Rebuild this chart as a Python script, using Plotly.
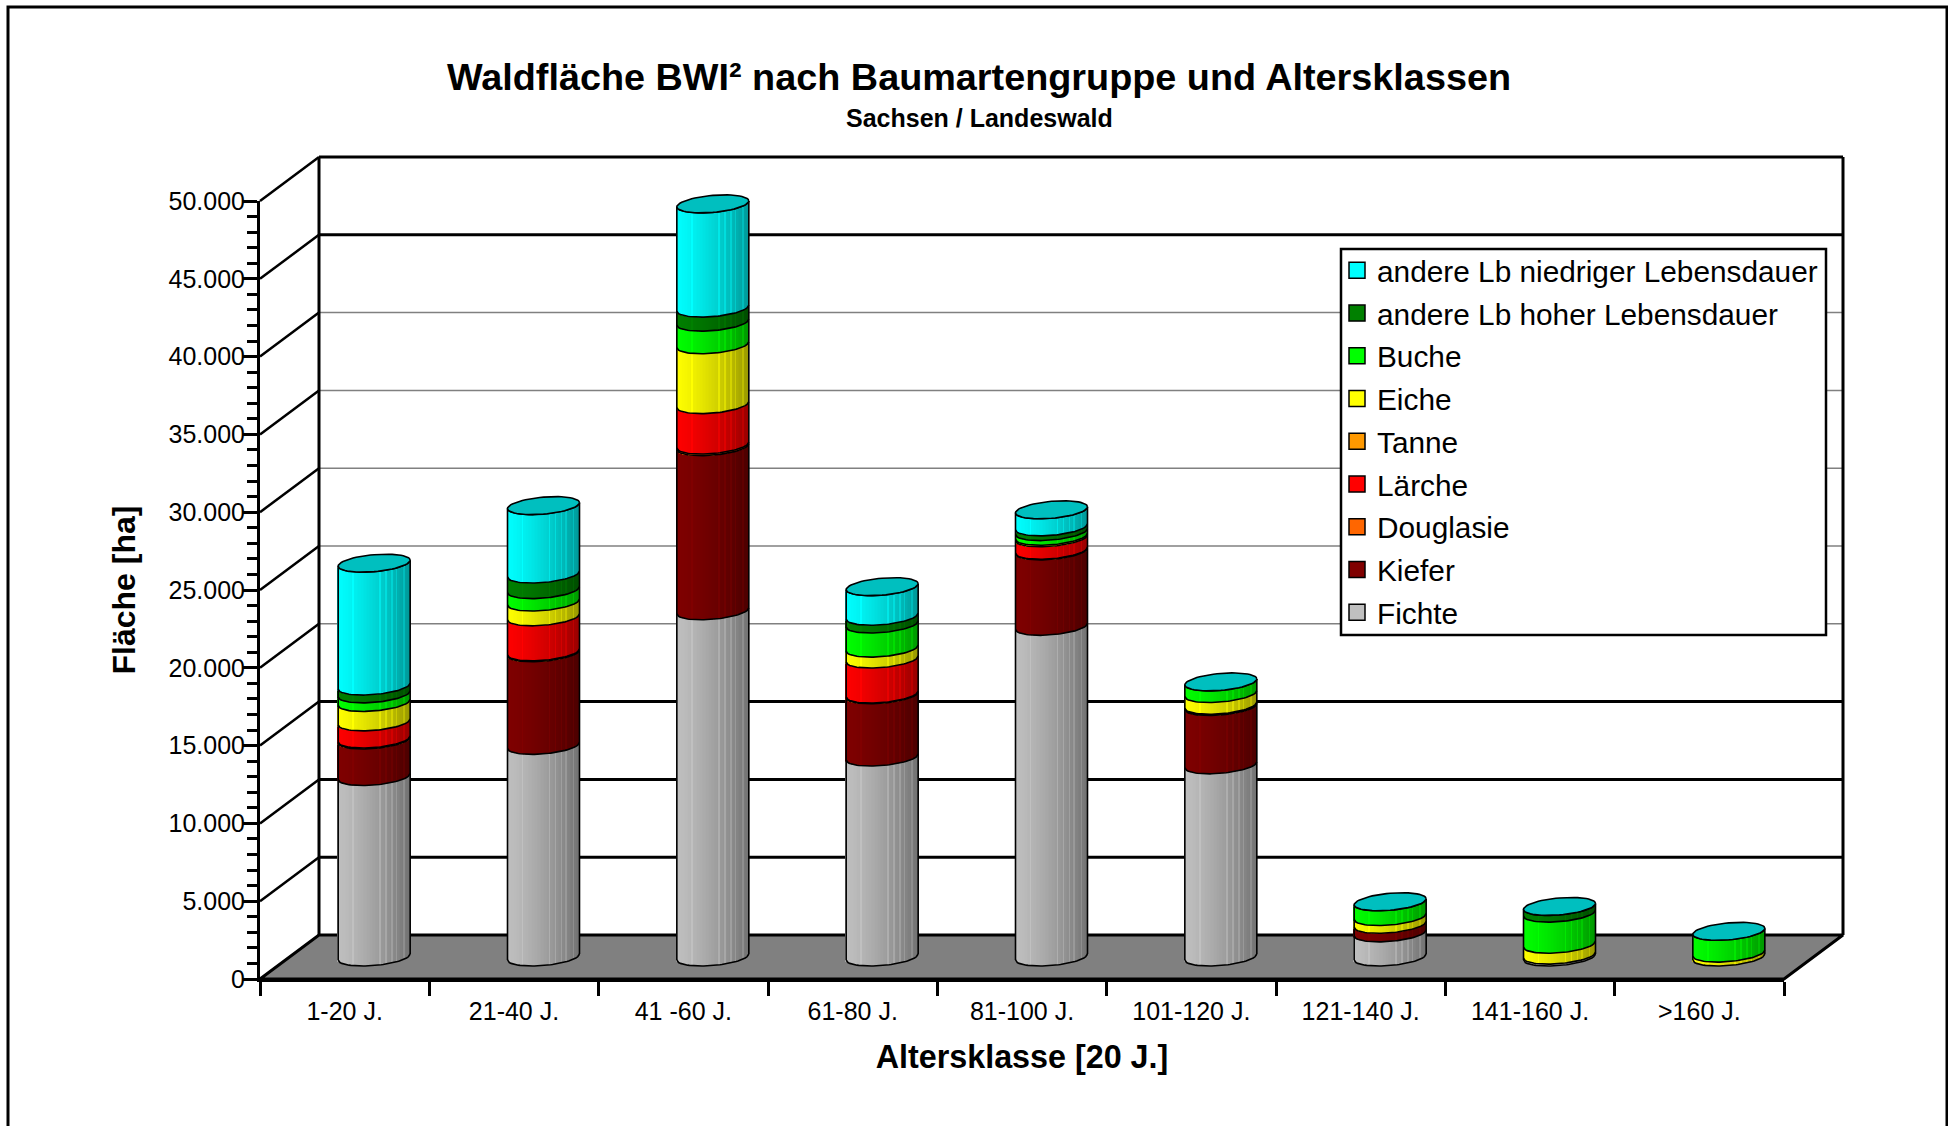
import math
import plotly.graph_objects as go

# ---------- data (ha) ----------
altersklassen = ["1-20 J.", "21-40 J.", "41 -60 J.", "61-80 J.", "81-100 J.", "101-120 J.", "121-140 J.", "141-160 J.", ">160 J."]
fichte    = [11600, 13600, 22250, 12850, 21250, 12350, 1550, 120, 0]
kiefer    = [2350, 5950, 10550, 4000, 4850, 3750, 550, 0, 0]
douglasie = [60, 60, 100, 50, 40, 30, 0, 0, 0]
laerche   = [1100, 2250, 2600, 2250, 800, 50, 0, 0, 0]
tanne     = [0, 0, 0, 0, 0, 0, 0, 0, 0]
eiche     = [1250, 950, 3850, 700, 100, 750, 500, 700, 250]
buche     = [550, 800, 1450, 1550, 300, 750, 950, 2000, 1400]
lb_hoch   = [500, 1000, 900, 500, 300, 0, 0, 430, 0]
lb_nied   = [7900, 4400, 6700, 1900, 1100, 0, 0, 0, 0]

series_names = ["Fichte", "Kiefer", "Douglasie", "Lärche", "Tanne", "Eiche", "Buche",
                "andere Lb hoher Lebensdauer", "andere Lb niedriger Lebensdauer"]
series_vals = [fichte, kiefer, douglasie, laerche, tanne, eiche, buche, lb_hoch, lb_nied]
series_cols = ["#C0C0C0", "#800000", "#FF6600", "#FF0000", "#FF9900", "#FFFF00", "#00FF00", "#008000", "#00FFFF"]
cap_col = "#00BFBF"

y_ticks_major = list(range(0, 50001, 5000))
grid_black = [5000, 10000, 15000, 45000, 50000]

# ---------- geometry (pixels of the picture -> data units) ----------
W, H = 1948, 1126
L, R, T, B = 260, 1784, 201, 979   # front plane of the box
RB, TB = 1843, 157                 # back plane: right edge, top edge
PAD = 4                            # room round the box so its edge lines are not clipped
AL, AR, AT, AB = L - PAD, RB + PAD, TB - PAD, B + PAD
N = len(altersklassen)
PX_X = (R - L) / N
PX_Y = (B - T) / 50000
DX = (RB - R) / PX_X      # depth of the box in axis units
DY = (T - TB) / PX_Y
A = 36.0              # cylinder half width, px
BY = 9.0              # cap half height, px
PHI = math.asin(1 / 3)
N_STRIPS = 48
STEP = 2 * A / N_STRIPS
light = [0.22, 0.60, 0.67, 0.755, 0.83, 0.92]


def front(u):
    return BY * math.sin(PHI - math.acos(max(-1, min(1, u / A))))


def shade(hex_col, f):
    r, g, b = [int(hex_col[i:i + 2], 16) for i in (1, 3, 5)]
    k = 1 - 0.2 * f - 0.2 * f * f
    if any(abs(f - s) < 0.012 for s in light):
        k = min(1, k + 0.10)
    return f"rgb({int(r * k)},{int(g * k)},{int(b * k)})"


fig = go.Figure()

# ---------- box: floor, walls, grid on the base axes ----------
fig.add_trace(go.Scatter(x=[0, N, N + DX, DX, 0], y=[0, 0, DY, DY, 0], mode="lines", fill="toself",
                         fillcolor="#808080", line=dict(color="black", width=3),
                         showlegend=False, hoverinfo="skip"))
for v in y_ticks_major[1:]:
    blk = v in grid_black
    fig.add_trace(go.Scatter(x=[DX, N + DX], y=[v + DY, v + DY], mode="lines",
                             line=dict(color="black" if blk else "#808080", width=3 if blk else 1.5),
                             showlegend=False, hoverinfo="skip"))
    fig.add_trace(go.Scatter(x=[0, DX], y=[v, v + DY], mode="lines", line=dict(color="black", width=2.5),
                             showlegend=False, hoverinfo="skip"))
fig.add_trace(go.Scatter(x=[DX, DX, None, N + DX, N + DX], y=[DY, 50000 + DY, None, DY, 50000 + DY], mode="lines",
                         line=dict(color="black", width=3), showlegend=False, hoverinfo="skip"))

# ---------- cylinders on the overlay axes ----------
cx = [i + 0.5 + DX / 2 for i in range(N)]
y0 = DY / 2
cum = [0.0] * N
line_x, line_y = [], []
for name, vals, col in zip(series_names, series_vals, series_cols):
    xs, ys, bases, widths, colors = [], [], [], [], []
    for i, v in enumerate(vals):
        if v <= 0:
            continue
        for s in range(N_STRIPS):
            u = -A + (s + 0.5) * STEP
            xs.append(cx[i] + u / PX_X)
            ys.append(v)
            bases.append(cum[i] + y0 + front(u) / PX_Y)
            widths.append(STEP * 1.25 / PX_X)
            colors.append(shade(col, (s + 0.5) / N_STRIPS))
        # contour at the bottom of the segment
        us = [-A + 2 * A * k / 40 for k in range(41)]
        if cum[i] == 0:
            line_x += [cx[i] + u / PX_X for u in us] + [None]
            line_y += [cum[i] + y0 + front(u) / PX_Y for u in us] + [None]
        line_x += [cx[i] + u / PX_X for u in us] + [None]
        line_y += [cum[i] + v + y0 + front(u) / PX_Y for u in us] + [None]
        cum[i] += v
    if xs:
        fig.add_trace(go.Bar(x=xs, y=ys, base=bases, width=widths, marker=dict(color=colors, line=dict(width=0)),
                             xaxis="x2", yaxis="y2", showlegend=False, name=name, hoverinfo="skip"))

# side edges
for i in range(N):
    for sgn in (-1, 1):
        line_x += [cx[i] + sgn * A / PX_X] * 2 + [None]
        line_y += [y0 + front(sgn * A) / PX_Y, cum[i] + y0 + front(sgn * A) / PX_Y, None]

fig.add_trace(go.Scatter(x=line_x, y=line_y, mode="lines", line=dict(color="black", width=1.6), xaxis="x2", yaxis="y2",
                         showlegend=False, hoverinfo="skip", connectgaps=False))

# caps
for i in range(N):
    th = [2 * math.pi * k / 60 for k in range(61)]
    fig.add_trace(go.Scatter(x=[cx[i] + A * math.cos(t) / PX_X for t in th],
                             y=[cum[i] + y0 + BY * math.sin(t + PHI) / PX_Y for t in th],
                             mode="lines", fill="toself", fillcolor=cap_col, line=dict(color="black", width=1.6),
                             xaxis="x2", yaxis="y2", showlegend=False, hoverinfo="skip"))

# ---------- legend (on the visible front axes) ----------
for name, col in reversed(list(zip(series_names, series_cols))):
    fig.add_trace(go.Scatter(x=[None], y=[None], mode="markers", name=name, legendgroup=name, xaxis="x3", yaxis="y3",
                             marker=dict(symbol="square", size=18, color=col, line=dict(color="black", width=1.5))))

fr_x = lambda p: (p - AL) / (AR - AL)
fr_y = lambda p: (AB - p) / (AB - AT)
FONT = "Liberation Sans, Arial, sans-serif"
box_x = [-PAD / PX_X, N + DX + PAD / PX_X]
box_y = [-PAD / PX_Y, 50000 + DY + PAD / PX_Y]

fig.update_layout(
    width=W, height=H, autosize=False,
    margin=dict(l=AL, r=W - AR, t=AT, b=H - AB, pad=0),
    paper_bgcolor="white", plot_bgcolor="rgba(0,0,0,0)",
    separators=",.",
    barmode="overlay",
    font=dict(family=FONT, color="black", size=25),
    title=dict(text="<b>Waldfläche BWI² nach Baumartengruppe und Altersklassen</b>", x=979 / W, xanchor="center",
               y=1 - 77 / H, yanchor="middle", font=dict(size=37.8, family=FONT, color="black")),
    xaxis=dict(range=box_x, domain=[0, 1], visible=False, fixedrange=True),
    yaxis=dict(range=box_y, domain=[0, 1], visible=False, fixedrange=True),
    xaxis2=dict(overlaying="x", range=box_x, visible=False, fixedrange=True, anchor="y2"),
    yaxis2=dict(overlaying="y", range=box_y, visible=False, fixedrange=True, anchor="x2"),
    xaxis3=dict(domain=[fr_x(L), fr_x(R)], anchor="y3", range=[0, N], tickmode="array",
                tickvals=[i + 0.5 for i in range(N)],
                ticktext=altersklassen, ticks="outside", ticklen=8, tickcolor="rgba(0,0,0,0)", tickfont=dict(size=25),
                showgrid=False, zeroline=False, showline=True, linecolor="black", linewidth=3, fixedrange=True,
                minor=dict(tickmode="array", tickvals=list(range(N + 1)), ticks="outside", ticklen=14, tickwidth=2.5,
                           tickcolor="black", showgrid=False),
                title=dict(text="<b>Altersklasse [20 J.]</b>", font=dict(size=32.3), standoff=22)),
    yaxis3=dict(domain=[fr_y(B), fr_y(T)], anchor="x3", range=[0, 50000], tickmode="array", tickvals=y_ticks_major,
                tickformat=",d", ticks="outside", ticklen=14, tickwidth=3, tickcolor="black", tickfont=dict(size=25),
                ticklabelstandoff=-7,
                showgrid=False, zeroline=False, showline=True, linecolor="black", linewidth=3, fixedrange=True,
                minor=dict(dtick=1000, ticks="outside", ticklen=10, tickwidth=2.5, tickcolor="black", showgrid=False),
                title=dict(text="<b>Fläche [ha]</b>", font=dict(size=32), standoff=24)),
    legend=dict(x=fr_x(1337), y=fr_y(244.5), xanchor="left", yanchor="top", bgcolor="rgba(0,0,0,0)",
                borderwidth=0, font=dict(size=29.8), tracegroupgap=1, itemsizing="trace", traceorder="grouped"),
    annotations=[dict(text="<b>Sachsen / Landeswald</b>", xref="paper", yref="paper", x=fr_x(979), y=fr_y(118),
                      xanchor="center", yanchor="middle", showarrow=False, font=dict(size=25))],
    shapes=[dict(type="rect", xref="paper", yref="paper", x0=fr_x(8), x1=fr_x(1947), y0=fr_y(1140), y1=fr_y(7),
                 line=dict(color="black", width=3), layer="below"),
            dict(type="rect", xref="paper", yref="paper", x0=fr_x(1341), x1=fr_x(1826), y0=fr_y(635), y1=fr_y(249),
                 line=dict(color="black", width=2.5), fillcolor="white", layer="above")],
    showlegend=True,
)

fig.write_html("out.html", post_script="document.body.style.margin='0';", config={"displayModeBar": False})
